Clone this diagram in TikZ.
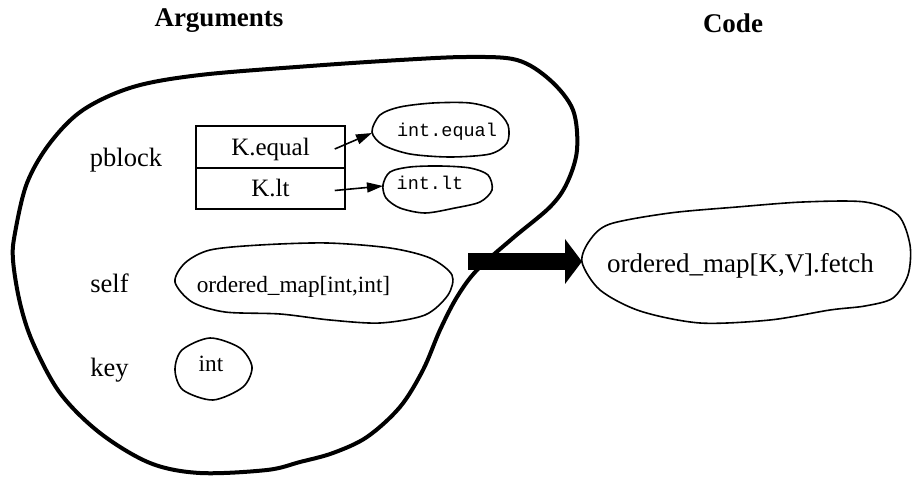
\documentclass[tikz,border=0pt]{standalone}
\usepackage{fontspec}
\setmainfont{Liberation Serif}
\setmonofont{Liberation Mono}
\usetikzlibrary{arrows.meta}

\tikzset{
  title/.style={anchor=base, font=\fontsize{27}{32}\bfseries\selectfont},
  lbl/.style={anchor=base, font=\fontsize{26.5}{30}\selectfont},
  txt/.style={anchor=base, font=\fontsize{23.3}{28}\selectfont},
  mono/.style={anchor=base, font=\fontsize{18.5}{22}\ttfamily\selectfont},
  row/.style={draw, line width=1.5pt, inner sep=0pt, minimum width=149pt,
    text height=17pt, text depth=0pt, font=\fontsize{25}{30}\selectfont},
  blob/.style={line width=1.6pt},
  ptr/.style={line width=1.6pt, -{Triangle[length=16pt,width=10pt]}},
}

\begin{document}
\begin{tikzpicture}[x=1pt,y=-1pt]
\useasboundingbox (0,0) rectangle (914,478);

% titles
\node[title] (targs) at (219,27) {Arguments};
\node[title] (tcode) at (733,33) {Code};

% the argument set
\draw[line width=4pt] plot[smooth cycle, tension=0.55] coordinates {
  (13,260) (15,233) (27,183) (50,143) (83,110) (133,87) (200,75) (310,66)
  (400,60) (467,57) (517,60) (550,80) (573,110) (577,150) (567,183) (550,207)
  (513,238) (477,270) (457,297) (440,330) (423,370) (400,407)
  (367,437) (333,453) (300,462) (267,470) (200,473) (150,463) (100,433)
  (60,393) (33,343) (20,303)};

\foreach \x/\y/\n in {126/167/pblock,109.5/293/self,109.5/377/key}{
    \node[lbl] (\n) at (\x,\y) {\n};
}

% pblock
\node[row, minimum height=42pt] (kequal) at (270.5,147) {K.equal};
\node[row, minimum height=41pt] (klt) at (270.5,188.5) {K.lt};

\draw[blob] plot[smooth cycle] coordinates {
  (372,132) (380,115) (400,107) (433,103) (470,103) (495,110) (508,125)
  (507,143) (490,154) (450,157) (410,154) (383,145)};
\node[mono] (inteq) at (447,137) {int.equal};
\coordinate (eqtip) at (372,133);

\draw[blob] plot[smooth cycle] coordinates {
  (383,185) (390,172) (410,167) (440,166) (470,168) (488,175) (492,190)
  (480,202) (455,208) (425,213) (400,208) (386,198)};
\node[mono] (intlt) at (430,190) {int.lt};
\coordinate (lttip) at (383,186);

\draw[ptr] ([xshift=-11pt,yshift=-2pt]kequal.east) -- (eqtip);
\draw[ptr] ([xshift=-11pt,yshift=-2pt]klt.east) -- (lttip);

% self
\draw[blob] plot[smooth cycle] coordinates {
  (175,282) (185,263) (210,250) (260,245) (327,243) (390,248) (430,258)
  (452,275) (448,295) (425,315) (380,323) (330,320) (280,314) (225,312)
  (192,302)};
\node[txt] (selftype) at (293.5,293) {ordered\_map[int,int]};

% key
\draw[blob] plot[smooth cycle] coordinates {
  (175,370) (182,350) (210,338) (240,348) (252,367) (243,387) (213,400)
  (183,390)};
\node[txt] (keytype) at (211,372) {int};

% code
\draw[blob] plot[smooth cycle] coordinates {
  (582,262) (590,240) (610,224) (670,213) (737,207) (803,202) (865,202)
  (898,215) (910,245) (908,275) (893,298) (865,306) (830,310) (770,320)
  (700,323) (640,311) (600,290)};
\node[lbl, font=\fontsize{27}{32}\selectfont] (fetch) at (740.5,273) {ordered\_map[K,V].fetch};

\coordinate (argsout) at (468,261.5);
\coordinate (fetchw) at (582,261.5);
\draw[line width=17pt, -{Triangle[length=17pt,width=45pt,line width=0pt]}] (argsout) -- (fetchw);
\end{tikzpicture}
\end{document}
